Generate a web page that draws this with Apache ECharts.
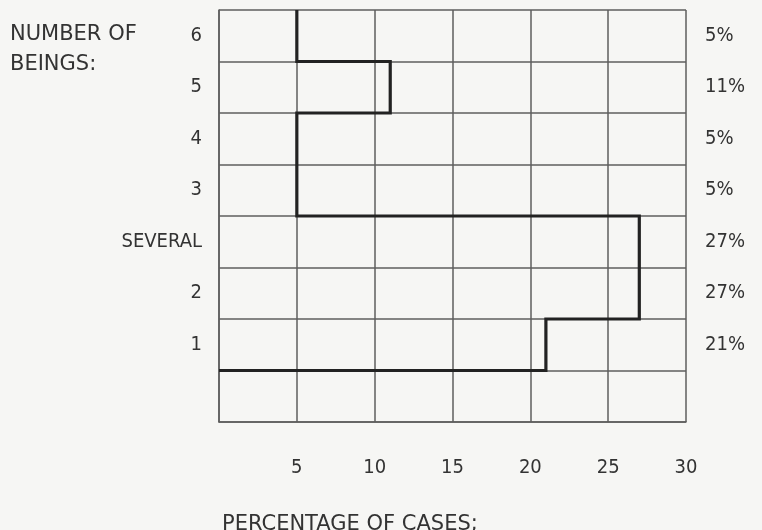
<!DOCTYPE html>
<html>
<head>
<meta charset="utf-8">
<script src="https://cdn.jsdelivr.net/npm/echarts@6/dist/echarts.min.js"></script>
<style>
html,body{margin:0;padding:0;background:#f6f6f4;}
#c{width:762px;height:530px;}
</style>
</head>
<body>
<div id="c"></div>
<script>
// rows from bottom to top
var categories = ['', '1', '2', 'SEVERAL', '3', '4', '5', '6'];
var percentages = [null, 21, 27, 27, 5, 5, 11, 5];
var xTicks = [5, 10, 15, 20, 25, 30];

var pctLabels = percentages.map(function (v) { return v == null ? '' : v + '%'; });

// step outline of the histogram, built from the values
var stepPoints = [];
for (var k = 0; k < percentages.length; k++) {
  var v = percentages[k];
  if (v == null) continue;
  if (stepPoints.length === 0) stepPoints.push([0, k]);
  stepPoints.push([v, k]);
  stepPoints.push([v, k + 1]);
}

var font = '"DejaVu Sans Condensed", "Liberation Sans Narrow", sans-serif';
var capsFont = '"DejaVu Sans", sans-serif';
var gridLine = { show: true, lineStyle: { color: '#5e5e5e', width: 1.5 } };

var chart = echarts.init(document.getElementById('c'));
chart.setOption({
  backgroundColor: '#f6f6f4',
  animation: false,
  title: [
    { text: 'NUMBER OF\nBEINGS:', left: 5, top: 15,
      textStyle: { fontFamily: capsFont, fontWeight: 'normal', fontSize: 21, lineHeight: 30, color: '#333' } },
    { text: 'PERCENTAGE OF CASES;', left: 217, top: 509,
      textStyle: { fontFamily: capsFont, fontWeight: 'normal', fontSize: 21, color: '#333' } }
  ],
  grid: { left: 219, right: 76, top: 10, bottom: 108 },
  xAxis: {
    type: 'value', min: 0, max: 30, interval: 5,
    axisLine: { show: true, lineStyle: { color: '#5e5e5e', width: 1.5 } },
    axisTick: { show: false },
    splitLine: gridLine,
    axisLabel: {
      margin: 36, fontFamily: font, fontSize: 20, color: '#333',
      formatter: function (val) { return xTicks.indexOf(val) >= 0 ? String(val) : ''; }
    }
  },
  yAxis: [
    {
      type: 'category', data: categories, position: 'left', boundaryGap: true,
      axisLine: { show: true, lineStyle: { color: '#5e5e5e', width: 1.5 } },
      axisTick: { show: false },
      splitLine: gridLine,
      axisLabel: { margin: 17, fontFamily: font, fontSize: 20, color: '#333' }
    },
    {
      type: 'category', data: pctLabels, position: 'right', boundaryGap: true,
      axisLine: { show: false }, axisTick: { show: false }, splitLine: { show: false },
      axisLabel: { margin: 19, fontFamily: font, fontSize: 20, color: '#333' }
    },
    {
      type: 'value', min: 0, max: categories.length, show: false,
      splitLine: { show: false }
    }
  ],
  series: [{
    type: 'line',
    yAxisIndex: 2,
    data: stepPoints,
    symbol: 'none',
    lineStyle: { color: '#222', width: 3.2, join: 'miter' },
    z: 5
  }]
});
</script>
</body>
</html>
